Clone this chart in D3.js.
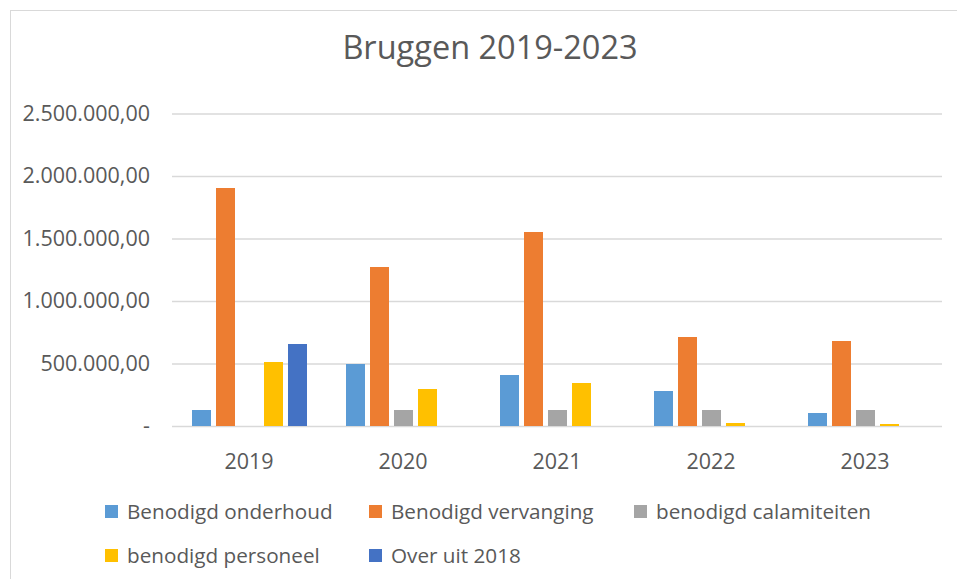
<!DOCTYPE html>
<html>
<head>
<meta charset="utf-8">
<title>Bruggen 2019-2023</title>
<script src="https://d3js.org/d3.v7.min.js"></script>
<style>
  body { margin: 0; background: #fff; }
  text { font-family: "Open Sans", sans-serif; fill: #595959; }
</style>
</head>
<body>
<svg width="957" height="579"></svg>
<script>
// data
const years = ["2019", "2020", "2021", "2022", "2023"];
const series = ["Benodigd onderhoud", "Benodigd vervanging", "benodigd calamiteiten", "benodigd personeel", "Over uit 2018"];
const onderhoud   = [128000, 496000, 408000, 280000, 104000];
const vervanging  = [1904000, 1272000, 1552000, 712000, 680000];
const calamiteiten = [0, 128000, 128000, 128000, 128000];
const personeel   = [512000, 296000, 344000, 24000, 16000];
const overUit2018 = [656000, 0, 0, 0, 0];
const yTicks = [0, 500000, 1000000, 1500000, 2000000, 2500000];
const colors = ["#5B9BD5", "#ED7D31", "#A5A5A5", "#FFC000", "#4472C4"];

const values = [onderhoud, vervanging, calamiteiten, personeel, overUit2018];

const svg = d3.select("svg");

// chart area border
svg.append("rect")
  .attr("x", 10.5).attr("y", 10.5)
  .attr("width", 960).attr("height", 600)
  .attr("fill", "none")
  .attr("stroke", "#d9d9d9");

svg.append("text")
  .attr("x", 490).attr("y", 59)
  .attr("text-anchor", "middle")
  .style("font-size", "32.5px")
  .text("Bruggen 2019-2023");

const x = d3.scaleBand().domain(years).range([172, 942]);
const xInner = d3.scaleBand().domain(series).range([20, 135]).paddingInner(5 / 24);
const y = d3.scaleLinear().domain([0, 2500000]).range([426, 113.5]);

const nl = d3.formatLocale({decimal: ",", thousands: ".", grouping: [3], currency: ["", ""]});
const fmt = nl.format(",.2f");

// gridlines + y labels
const yAxis = svg.append("g")
  .attr("transform", "translate(172,0)")
  .call(d3.axisLeft(y).tickValues(yTicks).tickSize(-770).tickPadding(22)
    .tickFormat(d => d === 0 ? "-" : fmt(d)));
yAxis.select(".domain").remove();
yAxis.selectAll("line").attr("stroke", "#d9d9d9").attr("stroke-width", 1.5);
yAxis.selectAll("text").style("font-size", "21.5px").attr("fill", "#595959")
  .attr("font-family", null);

// bars
const rows = [];
years.forEach((yr, i) => {
  series.forEach((s, j) => {
    rows.push({year: yr, serie: s, value: values[j][i], color: colors[j]});
  });
});

svg.append("g").selectAll("rect")
  .data(rows.filter(d => d.value > 0))
  .join("rect")
  .attr("x", d => x(d.year) + xInner(d.serie))
  .attr("y", d => y(d.value))
  .attr("width", xInner.bandwidth())
  .attr("height", d => y(0) - y(d.value))
  .attr("fill", d => d.color);

// x labels
const xAxis = svg.append("g")
  .attr("transform", "translate(0,426)")
  .call(d3.axisBottom(x).tickSize(0).tickPadding(28));
xAxis.select(".domain").remove();
xAxis.selectAll("text").style("font-size", "21.5px").attr("fill", "#595959")
  .attr("font-family", null);

// legend
const legendPos = [[105, 505], [369, 505], [634, 505], [105, 549], [369, 549]];
const legend = svg.append("g").selectAll("g")
  .data(series)
  .join("g")
  .attr("transform", (d, i) => "translate(" + legendPos[i][0] + "," + legendPos[i][1] + ")");
legend.append("rect")
  .attr("width", 13).attr("height", 13)
  .attr("fill", (d, i) => colors[i]);
legend.append("text")
  .attr("x", 22).attr("y", 14)
  .style("font-size", "20.7px")
  .text(d => d);
</script>
</body>
</html>
